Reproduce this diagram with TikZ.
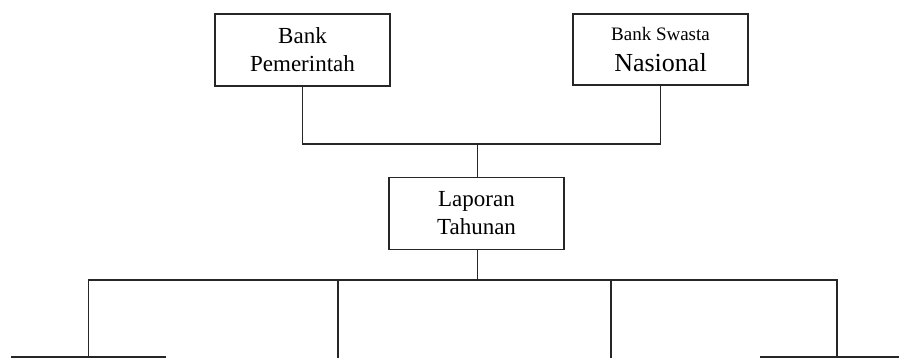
\documentclass[tikz,border=0pt]{standalone}
\usepackage{fontspec}
\setmainfont{Liberation Serif}
\begin{document}
\begin{tikzpicture}[x=1pt,y=-1pt,
  box/.style={draw=black!85,line width=1.2pt,rectangle,minimum width=175pt,minimum height=72pt,inner sep=0pt,align=center,font=\fontsize{23}{28}\selectfont},
  link/.style={draw=black!85,line width=1.1pt}]
\useasboundingbox (0,0) rectangle (899,358);
\clip (0,0) rectangle (899,358);
\node[box] (b1) at (302.5,50) {Bank\\Pemerintah};
\node[box,minimum height=71pt] (b2) at (660.5,49.5) {{\fontsize{19}{22}\selectfont Bank Swasta}\\[3pt]{\fontsize{26}{28}\selectfont Nasional}};
\node[box] (b3) at (476.5,213.5) {Laporan\\Tahunan};
\node[box,minimum width=153pt] (bl) at (88.5,393) {};
\node[box,minimum width=153pt] (br) at (837,393) {};
\coordinate (bar1) at (477.5,144);
\coordinate (bar2) at (477.5,280);
\coordinate (m1) at (338,370);
\coordinate (m2) at (611,370);
\draw[link] (b1.south) |- (bar1) -| (b2.south);
\draw[link] (bar1) -- (bar1 |- b3.north);
\draw[link] (bar2 |- b3.south) -- (bar2);
\draw[link] (bl.north) |- (bar2) -| (br.north);
\draw[link] (m1) -- (m1 |- bar2);
\draw[link] (m2) -- (m2 |- bar2);
\end{tikzpicture}
\end{document}
